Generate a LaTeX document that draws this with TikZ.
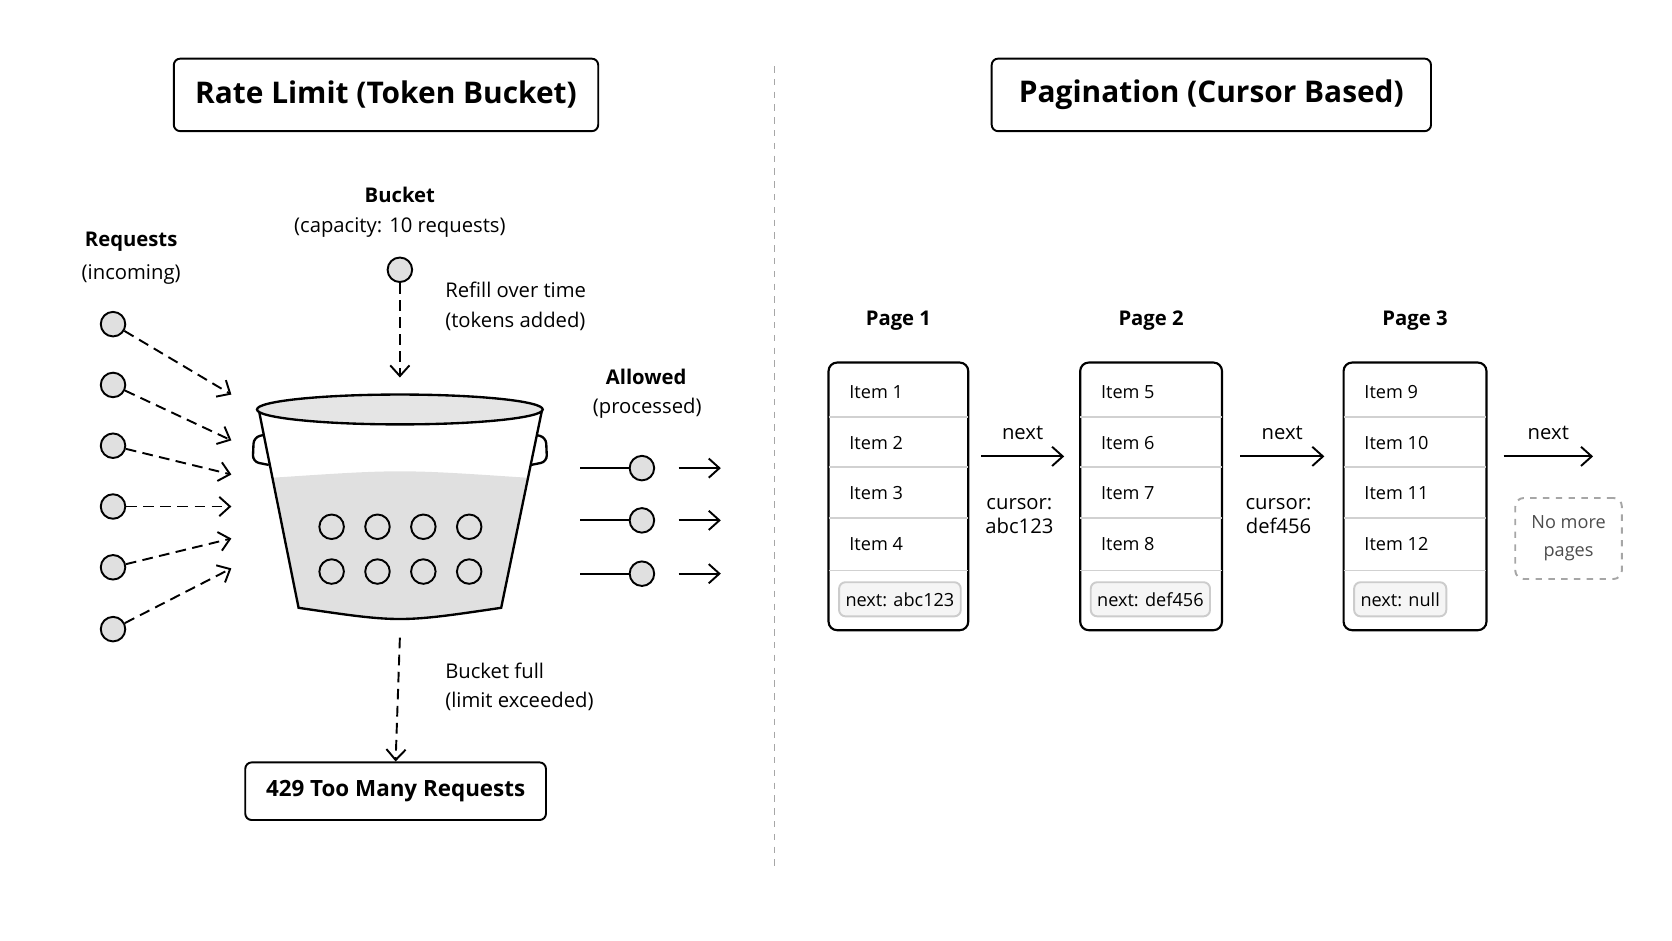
\documentclass[tikz,border=0pt]{standalone}
\usepackage{fontspec}
\setmainfont{Open Sans}
\usetikzlibrary{arrows.meta,positioning}
\begin{document}
\begin{tikzpicture}[x=0.5pt,y=-0.5pt, line width=0.9pt,
  title/.style = {draw, rounded corners=3pt, minimum width=199pt, minimum height=34pt, font=\fontsize{14}{16}\selectfont\bfseries},
  label/.style = {font=\fontsize{9.5}{11}\selectfont},
  head/.style = {font=\fontsize{9.5}{11}\selectfont\bfseries},
  tok/.style = {draw, circle, fill=black!12, minimum size=11.5pt, inner sep=0pt},
  item/.style = {font=\fontsize{8.5}{10}\selectfont, anchor=west},
  arr/.style = {-{Straight Barb[length=5pt,width=9pt]}},
  dasharr/.style = {arr, dashed, dash pattern=on 5pt off 3pt}]
\useasboundingbox (0,0) rectangle (1568,882);
\draw[black!35, dashed, line width=0.5pt] (726,62) -- (726,812);

% rate limit
\node[title] (t1) at (362,89) {Rate Limit (Token Bucket)};
\node[head] (bk) at (375,183) {Bucket};
\node[label] (bkc) at (375,213) {(capacity: 10 requests)};
\node[tok] (refill) at (375,253) {};
\coordinate (bktop) at (375,354);
\draw[dasharr] (refill) -- (bktop);
\node[label, anchor=west] (rf1) at (410,272) {Refill over time};
\node[label, anchor=west] (rf2) at (410,301) {(tokens added)};

\node[head] (rq) at (123,227) {Requests};
\node[label] (rqi) at (123,257) {(incoming)};
\foreach \y/\ty [count=\i] in {304/370,361/413,418/445,475/475,532/505,590/533} {
  \node[tok] (r\i) at (106,\y) {};
  \coordinate (rt\i) at (217,\ty);
  \draw[dasharr] (r\i) -- (rt\i);
}

% bucket
\fill[black!12] (256,448) .. controls (375,440) .. (494,448) -- (470,570) .. controls (375,584) .. (280,570) -- cycle;
\draw[line width=1.1pt] (243,386) -- (280,570) .. controls (375,584) .. (470,570) -- (508,386);
\draw[line width=1.1pt, fill=black!10] (375,384) ellipse (134 and 14);
\draw[line width=1.1pt, rounded corners=3pt] (247,408) -- (238,410) -- (237,433) -- (252,436);
\draw[line width=1.1pt, rounded corners=3pt] (503,408) -- (512,410) -- (513,433) -- (498,436);
\foreach \x [count=\i] in {311,354,397,440} {
  \node[tok] (ta\i) at (\x,494) {};
  \node[tok] (tb\i) at (\x,536) {};
}

\node[head] (al) at (606,353) {Allowed};
\node[label] (alp) at (607,383) {(processed)};
\foreach \y [count=\i] in {439,488,538} {
  \coordinate (as\i) at (544,\y);
  \coordinate (ae\i) at (676,\y);
  \node[tok] (a\i) at (602,\y) {};
  \draw (as\i) -- (a\i);
  \draw[arr] ([xshift=11pt]a\i.east) -- (ae\i);
}

\coordinate (bkbot) at (375,598);
\node[draw, rounded corners=3pt, minimum width=141pt, minimum height=27pt, font=\fontsize{10.5}{12}\selectfont\bfseries] (err) at (371,742) {429 Too Many Requests};
\draw[dasharr] (bkbot) -- (err.north);
\node[label, anchor=west] (bf1) at (410,629) {Bucket full};
\node[label, anchor=west] (bf2) at (410,658) {(limit exceeded)};

% pagination
\node[title, minimum width=206pt] (t2) at (1136,89) {Pagination (Cursor Based)};
\foreach \x/\w/\nx [count=\p] in {777/131/abc123, 1013/133/def456, 1260/134/null} {
  \node[head] (pg\p) at (\x+\w/2,301) {Page \p};
  \draw[rounded corners=4pt, line width=1pt, fill=white] (\x,340) rectangle (\x+\w,591);
  \foreach \y in {391,438,486,535}
    \draw[black!18] (\x,\y) -- (\x+\w,\y);
  \foreach \y [count=\k] in {368,415,462,510} {
    \pgfmathtruncatemacro{\n}{4*(\p-1)+\k}
    \node[item] (it\p\k) at (\x+12,\y) {Item \n};
  }
  \node[item, draw=black!20, fill=black!4, rounded corners=3pt, minimum height=16pt, inner xsep=3pt] (nx\p) at (\x+9,562) {next: \nx};
}
\foreach \xa/\xb/\cu [count=\i] in {920/998/abc123, 1163/1242/def456, 1410/1494/} {
  \coordinate (ns\i) at (\xa,428);
  \coordinate (ne\i) at (\xb,428);
  \draw[arr] (ns\i) -- node[label, above=4pt] {next} (ne\i);
}
\node[label, align=center] (c1) at (956,484) {cursor:\\abc123};
\node[label, align=center] (c2) at (1199,484) {cursor:\\def456};
\node[draw=black!35, dashed, rounded corners=4pt, minimum width=50pt, minimum height=38pt, align=center, text=black!70, font=\fontsize{8.5}{13}\selectfont] (nomore) at (1471,505) {No more\\pages};
\end{tikzpicture}
\end{document}
